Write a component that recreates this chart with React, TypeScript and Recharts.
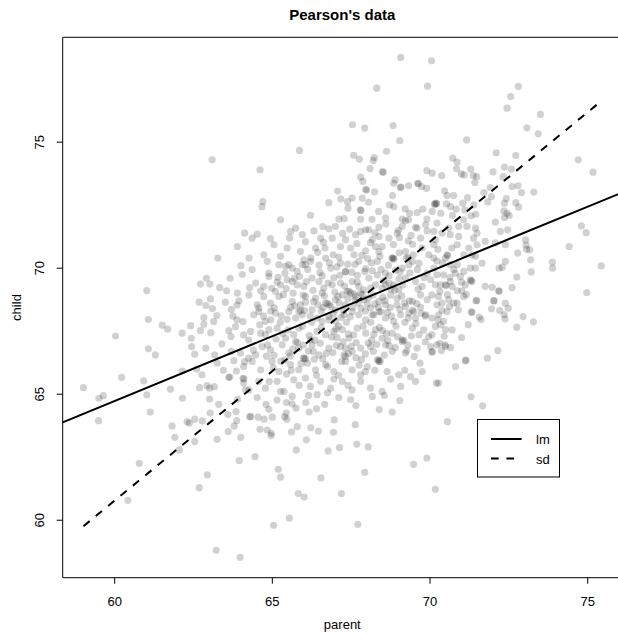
import {
  Label,
  Legend,
  ReferenceArea,
  ReferenceLine,
  Scatter,
  ScatterChart,
  XAxis,
  YAxis
} from "recharts";

// [parent, child] pairs, grouped by region of the cloud
const upperPairs = [
  [63.09, 74.3], [69.07, 78.36], [70.05, 78.23], [68.31, 77.14], [69.92, 77.22], [67.54, 75.69], [67.93, 75.56],
  [68.83, 75.66], [69.04, 75.06], [65.86, 74.67], [64.61, 73.9], [67.58, 74.48], [67.76, 74.33], [68.23, 74.39],
  [68.2, 74.27], [68.62, 74.64], [68.1, 73.95], [68.49, 73.83], [68.52, 73.8], [69.9, 73.87], [70.07, 73.77],
  [67.8, 73.61], [67.87, 73.44], [68.89, 73.5], [68.85, 73.37], [69.06, 73.2], [69.08, 73.22], [69.32, 73.27],
  [69.61, 73.37], [69.63, 73.35], [69.73, 73.24], [69.89, 73.17], [67.96, 73.13], [67.99, 73.1], [68.24, 73.03],
  [67.07, 73.06], [68.81, 72.88], [67.85, 72.78], [67.53, 72.78], [67.17, 72.75], [67.38, 72.64], [68.05, 72.62],
  [66.79, 72.6], [64.7, 72.64], [64.67, 72.44], [68.72, 72.51], [68.85, 72.44], [67.79, 72.31], [67.81, 72.29],
  [67.4, 72.38], [69.21, 72.35], [69.35, 72.18], [69.59, 72.21], [69.77, 72.34], [70.14, 72.55], [70.16, 72.53],
  [70.07, 72.25], [66.21, 72.1], [68.37, 72.25], [65.26, 71.92], [67.11, 71.95], [67.28, 71.97], [67.8, 71.95],
  [68.16, 71.94], [68.59, 71.99], [69.12, 71.95], [69.32, 71.92], [69.9, 71.95],
  [72.8, 77.21], [72.56, 76.81], [72.44, 76.35], [73.5, 76.1], [73.07, 75.57], [73.43, 75.33], [71.16, 75.09],
  [72.1, 74.58], [72.72, 74.47], [70.72, 74.37], [70.86, 74.21], [74.7, 74.3], [75.17, 73.81], [70.37, 73.67],
  [70.84, 73.94], [70.99, 73.74], [71.08, 73.7], [71.29, 73.93], [71.37, 73.67], [71.48, 73.63], [71.42, 73.4],
  [72.0, 73.82], [72.36, 74.01], [72.58, 73.93], [72.32, 73.63], [72.6, 73.24], [72.79, 73.27], [72.9, 73.0],
  [73.29, 73.02], [71.91, 73.2], [71.71, 73.0], [71.95, 72.84], [70.46, 73.07], [70.54, 72.88], [70.75, 72.88],
  [71.19, 72.8], [71.83, 72.63], [72.42, 72.76], [72.36, 72.58], [72.72, 72.6], [72.81, 72.42], [70.19, 72.58],
  [70.21, 72.56], [70.52, 72.55], [70.65, 72.44], [70.83, 72.34], [71.04, 72.58], [71.1, 72.31], [71.39, 72.51],
  [71.45, 72.14], [70.34, 72.18], [70.71, 72.09], [71.3, 72.08], [72.34, 72.27], [72.44, 72.18], [72.51, 72.09],
  [72.36, 72.01]
];

const leftPairs = [
  [64.12, 71.39], [63.89, 70.86], [63.27, 70.4], [62.91, 69.6], [62.72, 69.37], [63.02, 69.37], [63.33, 69.23],
  [63.66, 69.6], [64.26, 70.4], [64.28, 69.23], [63.89, 69.01], [63.94, 68.7], [63.88, 68.54], [61.02, 69.11],
  [62.68, 68.65], [62.89, 68.52], [63.04, 68.78], [63.51, 68.65], [63.7, 68.36], [61.07, 67.96], [61.51, 67.74],
  [61.68, 67.58], [62.41, 67.72], [62.83, 67.78], [63.24, 68.12], [63.14, 67.88], [62.83, 68.04], [62.14, 67.42],
  [62.43, 67.22], [62.72, 67.52], [63.05, 67.44], [63.62, 67.52], [63.83, 67.68], [64.07, 67.88], [63.88, 67.95],
  [64.09, 67.35], [63.69, 67.29], [64.25, 67.15], [60.03, 67.31], [62.44, 66.89], [62.54, 66.59], [62.89, 66.83],
  [63.17, 66.56], [63.25, 66.23], [61.07, 66.8], [61.29, 66.56], [63.78, 66.33], [63.99, 66.63], [64.12, 66.29],
  [64.09, 66.1], [64.25, 66.43], [62.15, 65.92], [62.77, 65.77], [63.86, 65.92], [63.62, 65.66], [63.65, 65.68],
  [64.07, 65.63], [64.1, 65.61], [60.22, 65.67], [60.92, 65.53], [59.01, 65.26], [59.64, 64.94], [59.5, 64.84],
  [61.77, 65.2], [62.69, 65.26], [62.93, 65.34], [63.01, 65.24], [63.16, 65.3], [61.02, 64.97], [62.15, 64.84],
  [63.01, 64.81], [64.09, 65.44], [64.15, 65.17]
];

const lowerLeftPairs = [
  [59.49, 63.95], [61.13, 64.29], [61.82, 63.74], [62.3, 63.91], [62.37, 63.85], [62.54, 64.01], [62.78, 63.94],
  [63.03, 64.25], [61.91, 63.29], [62.05, 62.79], [62.54, 63.12], [63.25, 63.21], [63.59, 64.19], [63.85, 64.31],
  [63.87, 63.95], [63.79, 63.74], [63.6, 63.52], [64.0, 63.29], [64.28, 64.11], [63.95, 62.37], [60.78, 62.26],
  [62.94, 61.8], [62.68, 61.29], [60.42, 60.79], [63.22, 58.81], [63.98, 58.53]
];

const lowerPairs = [
  [64.32, 64.11], [64.55, 64.09], [64.74, 64.01], [64.61, 63.61], [64.89, 64.4], [65.0, 64.09], [64.84, 63.58],
  [64.97, 63.45], [64.96, 63.36], [64.45, 62.52], [65.39, 64.11], [65.46, 64.01], [65.44, 64.25], [65.61, 63.5],
  [65.79, 63.71], [66.08, 63.19], [65.76, 62.79], [66.22, 63.67], [66.46, 63.54], [66.96, 63.98], [66.94, 63.49],
  [66.77, 62.75], [67.13, 62.88], [66.66, 64.6], [66.4, 64.42], [66.17, 64.29], [65.63, 64.62], [66.06, 64.67],
  [65.45, 64.67], [65.15, 64.77], [67.63, 63.79], [67.68, 63.02], [68.04, 62.91], [67.93, 61.9], [68.39, 64.39],
  [68.8, 64.29], [69.04, 64.75], [65.19, 62.02], [65.26, 61.71], [66.54, 61.68], [65.82, 61.06], [66.01, 60.92],
  [67.19, 61.06], [65.54, 60.08], [65.04, 59.8], [67.71, 59.84], [69.48, 62.22], [69.9, 62.47], [70.17, 61.23],
  [71.67, 64.54], [70.55, 63.91]
];

const rightPairs = [
  [74.8, 71.68], [74.95, 71.41], [74.41, 70.86], [75.43, 70.09], [74.97, 69.03], [73.88, 70.24], [73.89, 70.0],
  [73.19, 70.33], [73.21, 69.85], [73.03, 71.12], [73.05, 70.92], [73.06, 70.75], [73.16, 70.73], [72.78, 70.6],
  [72.39, 70.27], [72.29, 70.04], [72.19, 70.0], [72.75, 69.65], [72.6, 69.23], [72.19, 69.1], [72.39, 68.61],
  [72.48, 68.41], [72.95, 68.08], [72.75, 67.66], [73.28, 67.87], [72.38, 67.99], [72.35, 68.15], [72.21, 68.32],
  [71.95, 68.39], [72.03, 68.7], [72.15, 66.73], [71.82, 66.43], [71.62, 67.96], [71.56, 68.06], [71.21, 67.76],
  [71.31, 68.27], [71.33, 68.25], [71.46, 68.7], [71.48, 68.72], [71.12, 66.33], [71.14, 66.35], [70.81, 66.1],
  [70.2, 65.44], [70.27, 65.44], [71.3, 64.9], [70.31, 67.02], [70.48, 66.96], [70.65, 66.85],
  [70.07, 66.69], [70.36, 66.73],
  [70.22, 71.79], [70.12, 71.46], [70.17, 71.13], [70.12, 70.93], [70.38, 71.39], [70.59, 71.59], [70.64, 71.33],
  [70.91, 71.66], [70.91, 71.26], [70.86, 70.93], [71.07, 71.92], [71.17, 71.66], [71.49, 71.39], [71.38, 71.19],
  [71.44, 71.59], [72.07, 71.83], [72.46, 71.52], [72.23, 71.46], [72.39, 70.93], [72.07, 71.0], [71.75, 71.06],
  [71.49, 70.93], [71.23, 70.8], [71.33, 70.53], [71.07, 70.53], [71.44, 70.47], [71.65, 70.2], [71.28, 70.0],
  [71.44, 70.0], [71.07, 69.87], [70.86, 70.14], [70.64, 70.14], [70.49, 70.4], [70.54, 70.53], [70.56, 70.5],
  [70.43, 69.74], [70.22, 69.74], [70.12, 70.0], [70.33, 69.34], [70.49, 69.34], [70.51, 69.31], [70.17, 69.34],
  [70.64, 69.47], [70.8, 69.8], [70.96, 69.67], [71.28, 69.54], [71.3, 69.51], [71.33, 69.47], [71.12, 69.34],
  [70.7, 69.28], [70.86, 69.1], [71.01, 69.1], [71.75, 69.28], [71.97, 69.24], [72.18, 69.08], [70.06, 68.94],
  [70.27, 68.88], [70.22, 68.55], [70.38, 68.61], [70.59, 68.75], [70.75, 68.61], [70.86, 68.61], [71.07, 68.88],
  [70.54, 68.28], [70.27, 68.15], [70.06, 68.02], [70.43, 67.89], [70.17, 67.69], [70.33, 67.75], [70.49, 67.56],
  [70.06, 67.36], [70.22, 66.96], [70.06, 66.67], [72.02, 68.71], [70.49, 66.89]
];

const centerPairs = [
  [67.0, 71.66], [67.96, 71.52], [68.38, 71.62], [69.12, 71.66], [69.22, 71.88], [69.59, 71.59], [69.86, 71.72],
  [64.36, 71.19], [64.52, 71.35], [64.94, 71.17], [65.58, 71.46], [65.74, 71.59], [65.95, 71.33], [66.32, 71.48],
  [66.53, 71.19], [66.79, 71.56], [66.9, 71.19], [67.32, 71.13], [67.64, 71.33], [67.8, 71.46], [68.06, 71.52],
  [68.17, 71.13], [68.38, 71.26], [68.48, 70.86], [68.7, 71.19], [68.96, 71.39], [69.03, 71.22], [69.4, 71.3],
  [69.54, 71.62], [69.7, 71.19], [69.91, 71.48],
  [64.73, 70.53], [65.05, 70.93], [65.26, 70.47], [65.47, 70.8], [65.89, 70.66], [66.0, 70.33], [66.37, 70.8],
  [66.67, 70.8], [66.93, 70.53], [67.16, 70.86], [67.48, 70.8], [67.59, 70.53], [67.96, 70.69], [68.27, 70.86],
  [68.38, 70.66], [68.85, 70.4], [69.22, 70.66], [69.47, 70.53], [69.75, 70.8], [69.96, 70.53], [70.12, 70.4],
  [64.36, 69.94], [64.84, 70.27], [64.89, 69.8], [65.21, 70.14], [65.42, 70.07], [65.63, 70.0], [65.79, 69.87],
  [66.05, 70.14], [66.21, 70.27], [66.69, 70.4], [66.85, 70.0], [67.16, 70.2], [67.32, 69.87], [67.74, 70.27],
  [67.96, 69.98], [68.17, 69.9], [68.33, 70.27], [68.59, 69.8], [68.8, 70.4], [69.12, 70.0], [69.33, 70.14],
  [69.44, 70.27], [69.65, 70.2], [69.91, 69.8],
  [64.47, 69.41], [64.73, 69.28], [64.89, 69.67], [65.1, 69.08], [65.26, 69.34], [65.47, 69.54], [65.63, 69.47],
  [65.79, 69.34], [66.0, 69.28], [66.26, 69.61], [66.48, 69.47], [66.63, 69.21], [66.9, 69.34], [67.16, 69.41],
  [67.37, 69.08], [67.53, 69.47], [67.74, 69.28], [67.9, 69.14], [68.06, 69.61], [68.27, 69.34], [68.48, 69.21],
  [68.7, 69.41], [68.85, 69.34], [69.01, 69.14], [69.22, 69.61], [69.54, 69.47], [69.75, 69.28], [70.02, 69.54],
  [64.26, 68.94], [64.52, 68.55], [64.73, 68.88], [64.94, 68.61], [65.21, 68.88], [65.63, 68.68], [65.89, 68.55],
  [66.05, 68.88], [66.37, 68.81], [66.69, 68.61], [66.85, 68.48], [67.0, 68.75], [67.22, 68.94], [67.32, 68.55],
  [67.64, 68.88], [67.9, 68.75], [68.11, 68.42], [68.38, 68.68], [68.59, 68.55], [68.75, 68.94], [68.96, 68.81],
  [69.22, 68.48], [69.44, 68.68], [69.7, 68.94], [69.91, 68.75],
  [64.41, 68.15], [64.57, 68.28], [64.78, 67.89], [65.1, 68.22], [65.52, 68.28], [65.74, 68.02], [65.95, 68.15],
  [66.26, 68.35], [66.58, 67.89], [66.79, 68.08], [67.0, 67.89], [67.27, 68.15], [67.53, 68.28], [67.74, 68.15],
  [67.96, 67.95], [68.22, 68.15], [68.38, 68.28], [68.59, 68.02], [68.85, 67.89], [69.07, 68.15], [69.33, 68.22],
  [69.54, 68.02], [69.86, 68.15],
  [64.31, 67.49], [64.63, 67.42], [64.89, 67.56], [65.15, 67.62], [65.42, 67.22], [65.68, 67.36], [65.84, 67.62],
  [66.21, 67.16], [66.42, 67.49], [66.69, 67.36], [66.95, 67.49], [67.22, 67.56], [67.43, 67.22], [67.69, 67.62],
  [67.96, 67.42], [68.27, 67.56], [68.48, 67.22], [68.8, 67.42], [69.12, 67.16], [69.44, 67.62], [69.65, 67.36],
  [69.96, 67.29],
  [64.47, 66.56], [64.68, 66.89], [64.94, 66.76], [65.31, 66.96], [65.52, 66.63], [65.84, 66.83], [66.0, 66.43],
  [66.26, 66.96], [66.48, 66.56], [66.79, 66.83], [67.16, 66.89], [67.32, 66.5], [67.53, 66.7], [67.8, 66.83],
  [68.11, 66.89], [68.33, 66.36], [68.59, 66.96], [68.8, 66.7], [69.22, 66.63], [69.59, 66.83], [70.02, 66.89],
  [64.36, 66.3], [64.63, 65.97], [64.99, 66.3], [65.21, 65.9], [65.58, 66.17], [65.84, 65.97], [66.11, 66.23],
  [66.37, 65.97], [66.69, 66.17], [66.95, 65.9], [67.32, 66.3], [67.53, 65.97], [67.8, 65.77], [68.01, 66.1],
  [68.38, 66.3], [68.64, 65.9], [69.01, 65.77], [69.38, 65.7], [69.75, 65.9],
  [64.26, 65.17], [64.57, 65.51], [64.78, 65.24], [65.15, 65.51], [65.37, 65.11], [65.68, 65.57], [66.05, 65.64],
  [66.21, 65.31], [66.53, 65.51], [66.85, 65.24], [67.22, 65.51], [67.53, 65.17], [67.8, 65.51], [68.11, 65.24],
  [68.48, 65.11], [69.07, 65.31], [69.54, 65.51],
  [64.52, 64.87], [65.63, 64.91], [66.42, 64.98], [67.11, 64.87], [67.48, 64.78], [68.17, 64.91]
];

const densePairs = [
  [66.74, 68.61], [66.8, 68.55], [65.84, 68.28], [65.9, 68.33], [65.95, 70.14], [65.52, 70.14], [67.32, 69.85],
  [67.43, 69.08], [67.48, 69.02], [67.8, 69.01], [67.85, 68.95], [68.59, 69.34], [68.8, 70.4], [68.85, 70.35],
  [69.49, 68.28], [69.44, 68.33], [68.17, 68.15], [68.38, 66.36], [68.42, 66.3], [66.0, 66.43], [66.05, 66.4],
  [65.74, 67.09], [65.79, 67.05], [67.27, 66.56], [67.32, 66.83], [64.78, 67.36], [64.57, 68.42], [65.26, 65.11],
  [69.12, 67.09], [69.17, 67.13],
  [66.12, 69.95], [66.48, 70.12], [66.58, 69.7], [66.95, 69.62], [67.05, 70.05], [67.62, 70.15], [67.7, 69.72],
  [68.02, 70.38], [68.45, 69.95], [68.7, 69.7], [69.05, 69.85], [69.25, 70.4], [69.6, 69.95], [65.4, 69.8],
  [65.7, 69.6], [65.15, 69.45],
  [65.35, 68.95], [65.58, 68.45], [66.2, 68.1], [66.45, 68.55], [66.65, 68.9], [67.0, 68.35], [67.12, 68.62],
  [67.4, 68.8], [67.55, 68.45], [67.72, 68.62], [67.95, 68.3], [68.05, 68.82], [68.25, 68.58], [68.5, 68.85],
  [68.65, 68.25], [68.95, 68.55], [69.1, 68.9], [69.35, 68.7], [69.7, 68.45], [69.85, 68.1], [68.78, 68.1],
  [67.18, 68.05], [66.55, 68.3], [66.05, 68.65],
  [64.6, 67.75], [64.95, 67.95], [65.25, 67.85], [65.5, 67.55], [65.95, 67.7], [66.25, 67.85], [66.55, 67.65],
  [66.8, 67.95], [67.1, 67.7], [67.35, 67.85], [67.58, 67.35], [67.88, 67.7], [68.12, 67.85], [68.4, 67.65],
  [68.62, 67.4], [68.92, 67.7], [69.2, 67.85], [69.55, 67.8], [69.8, 67.55], [66.35, 67.15], [67.05, 67.25],
  [68.15, 67.15],
  [64.85, 66.95], [65.05, 66.55], [65.4, 66.35], [65.65, 66.8], [65.98, 66.95], [66.3, 66.7], [66.6, 66.4],
  [66.92, 66.65], [67.2, 66.3], [67.5, 66.9], [67.65, 66.45], [67.95, 66.6], [68.2, 66.7], [68.55, 66.55],
  [68.9, 66.85], [69.3, 66.95], [69.5, 66.5], [64.4, 66.75], [65.6, 65.95], [66.75, 66.1], [67.1, 65.75],
  [68.25, 65.95], [67.75, 66.15],
  [64.9, 65.5], [65.45, 65.8], [65.85, 65.35], [66.4, 65.75], [66.95, 65.6], [67.4, 65.35], [67.95, 65.9],
  [68.75, 65.6], [69.2, 65.95], [66.15, 64.95], [66.75, 65.05], [67.65, 64.55], [68.55, 64.95], [65.75, 64.45],
  [64.8, 64.6],
  [69.45, 70.95], [69.0, 71.5], [68.6, 71.75], [67.45, 71.55], [66.6, 71.65], [66.05, 71.05], [65.55, 71.2],
  [68.25, 71.4], [70.25, 70.75], [70.4, 70.2], [70.75, 69.95], [71.0, 69.45], [70.55, 68.95], [70.9, 68.35],
  [71.15, 68.95], [70.7, 67.55], [71.0, 67.25], [70.45, 67.3],
  [63.75, 68.1], [63.55, 69.1], [63.4, 67.0], [63.1, 68.4], [63.7, 66.7], [63.45, 65.95], [63.9, 64.8],
  [64.05, 69.75], [64.0, 70.1], [62.6, 66.0], [63.3, 64.6]
];

// darker overlap patches in the middle of the cloud
const corePairs = [
  [65.12, 67.18], [65.33, 67.41], [65.57, 66.52], [65.91, 66.21], [66.14, 66.71], [66.33, 66.39], [66.52, 67.02],
  [66.71, 66.62], [66.88, 67.27], [67.03, 66.94], [67.24, 67.08], [67.41, 66.61], [67.66, 67.05], [67.83, 66.38],
  [68.04, 67.03], [68.31, 66.98], [68.49, 67.52], [68.71, 66.92], [68.97, 67.28], [69.26, 66.72], [69.41, 67.31],
  [65.06, 68.43], [65.28, 68.11], [65.47, 67.97], [65.71, 68.51], [66.02, 68.32], [66.31, 68.67], [66.42, 68.02],
  [66.61, 68.44], [66.93, 68.18], [67.08, 68.88], [67.26, 68.31], [67.47, 68.07], [67.63, 68.73], [67.81, 68.41],
  [68.01, 68.58], [68.19, 68.94], [68.36, 68.45], [68.57, 68.71], [68.74, 68.44], [68.88, 69.12], [69.04, 68.37],
  [69.19, 68.62], [69.31, 68.03], [69.58, 68.59], [69.72, 68.21], [65.18, 69.64], [65.44, 69.19], [65.66, 69.01],
  [65.86, 69.67], [66.08, 69.47], [66.29, 69.12], [66.51, 69.83], [66.77, 69.41], [66.98, 69.05], [67.14, 69.72],
  [67.29, 69.29], [67.52, 69.84], [67.69, 69.45], [67.93, 69.87], [68.12, 69.22], [68.33, 69.73], [68.53, 69.51],
  [68.76, 69.18], [68.91, 69.92], [69.13, 69.33], [69.36, 69.81], [69.62, 69.17], [69.81, 69.62], [66.22, 70.41],
  [66.44, 70.63], [66.81, 70.21], [67.11, 70.44], [67.39, 70.16], [67.84, 70.51], [68.14, 70.21], [68.41, 70.47],
  [68.68, 70.12], [69.02, 70.61], [69.31, 70.42], [64.95, 68.3], [64.72, 68.1], [64.63, 69.1], [64.98, 69.2],
  [65.03, 66.05], [65.27, 66.31], [64.82, 66.51], [69.68, 66.23], [69.85, 67.08], [70.25, 67.95], [70.38, 68.32],
  [70.62, 68.48], [70.31, 69.08], [70.63, 69.64], [70.22, 70.28], [70.69, 70.8], [66.62, 71.03], [67.23, 71.38],
  [67.68, 70.98], [68.11, 71.01], [68.84, 70.94], [69.31, 71.08], [67.41, 67.39], [66.17, 67.33], [68.66, 67.13],
  [67.02, 67.59], [65.98, 68.93], [67.59, 68.98], [68.44, 68.27], [66.58, 69.02], [68.22, 67.37], [69.02, 69.58]
];

const parentTicks = [60, 65, 70, 75];
const childTicks = [60, 65, 70, 75];
const parentDomain = [58.353, 76.087];
const childDomain = [57.72, 79.16];

// fitted lines
const lmIntercept = 33.89;
const lmSlope = 0.514;
const parentMean = 67.69;
const childMean = 68.68;
const parentSd = 2.74;
const childSd = 2.815;
const parentMin = 59.01;
const parentMax = 75.43;

const FONT = "'Liberation Sans', Arial, Helvetica, sans-serif";

const points = [
  ...upperPairs,
  ...leftPairs,
  ...lowerLeftPairs,
  ...lowerPairs,
  ...rightPairs,
  ...centerPairs,
  ...densePairs,
  ...corePairs
].map(([parent, child]) => ({ parent, child }));

const lmY = (x: number) => lmIntercept + lmSlope * x;
const sdY = (x: number) => childMean + (childSd / parentSd) * (x - parentMean);

const Dot = (props: any) => (
  <circle cx={props.cx} cy={props.cy} r={3.6} fill="#000" fillOpacity={0.18} />
);

const XTick = (props: any) => (
  <text x={props.x} y={605.5} textAnchor="middle" fontSize={13} fill="#000" fontFamily={FONT}>
    {props.payload.value}
  </text>
);

const YTick = (props: any) => (
  <text
    transform={`translate(43.5, ${props.y}) rotate(-90)`}
    textAnchor="middle"
    fontSize={13}
    fill="#000"
    fontFamily={FONT}
  >
    {props.payload.value}
  </text>
);

const LegendBox = () => (
  <svg width={83} height={59} style={{ display: "block" }}>
    <rect x={0.5} y={0.5} width={82} height={57.5} fill="none" stroke="#000" />
    <line x1={14} x2={44.6} y1={20} y2={20} stroke="#000" strokeWidth={2} />
    <line x1={14} x2={44.6} y1={39.4} y2={39.4} stroke="#000" strokeWidth={2} strokeDasharray="7.7 7.7" />
    <text x={59} y={25} fontSize={13} fontFamily={FONT} fill="#000">lm</text>
    <text x={59} y={44.6} fontSize={13} fontFamily={FONT} fill="#000">sd</text>
  </svg>
);

export default function App() {
  return (
    <div
      style={{
        position: "absolute",
        left: 0,
        top: 0,
        width: 618,
        height: 634,
        overflow: "hidden",
        background: "#fff",
        fontFamily: FONT
      }}
    >
      <svg width={618} height={36} style={{ position: "absolute", left: 0, top: 0 }}>
        <text x={342.3} y={19.5} textAnchor="middle" fontSize={15} fontWeight="bold" fontFamily={FONT} fill="#000">
          Pearson's data
        </text>
      </svg>
      <ScatterChart width={630} height={634} margin={{ top: 37.3, right: 8, bottom: 26, left: 0 }}>
        <XAxis
          type="number"
          dataKey="parent"
          domain={parentDomain}
          ticks={parentTicks}
          interval={0}
          allowDataOverflow
          axisLine={false}
          tickLine={{ stroke: "#000" }}
          tickSize={6}
          height={30.3}
          tick={<XTick />}
        >
          <Label
            content={() => (
              <text x={342.3} y={629} textAnchor="middle" fontSize={13} fontFamily={FONT} fill="#000">
                parent
              </text>
            )}
          />
        </XAxis>
        <YAxis
          type="number"
          dataKey="child"
          domain={childDomain}
          ticks={childTicks}
          interval={0}
          allowDataOverflow
          axisLine={false}
          tickLine={{ stroke: "#000" }}
          tickSize={6}
          width={62.7}
          tick={<YTick />}
        >
          <Label
            content={() => (
              <text
                transform="translate(20.7, 307.5) rotate(-90)"
                textAnchor="middle"
                fontSize={13}
                fontFamily={FONT}
                fill="#000"
              >
                child
              </text>
            )}
          />
        </YAxis>
        <Scatter data={points} shape={<Dot />} isAnimationActive={false} />
        <ReferenceLine
          segment={[
            { x: parentDomain[0], y: lmY(parentDomain[0]) },
            { x: parentDomain[1], y: lmY(parentDomain[1]) }
          ]}
          stroke="#000"
          strokeWidth={2}
          ifOverflow="visible"
        />
        <ReferenceLine
          segment={[
            { x: parentMin, y: sdY(parentMin) },
            { x: parentMax, y: sdY(parentMax) }
          ]}
          stroke="#000"
          strokeWidth={2}
          strokeDasharray="8 8"
          ifOverflow="visible"
        />
        <ReferenceArea
          x1={parentDomain[0]}
          x2={parentDomain[1]}
          y1={childDomain[0]}
          y2={childDomain[1]}
          fill="none"
          fillOpacity={0}
          stroke="#000"
          strokeWidth={1}
          ifOverflow="visible"
        />
        <Legend
          layout="vertical"
          align="center"
          verticalAlign="middle"
          content={() => <LegendBox />}
          wrapperStyle={{ left: 476.7, top: 419.3, width: 83, height: 59 }}
        />
      </ScatterChart>
    </div>
  );
}
